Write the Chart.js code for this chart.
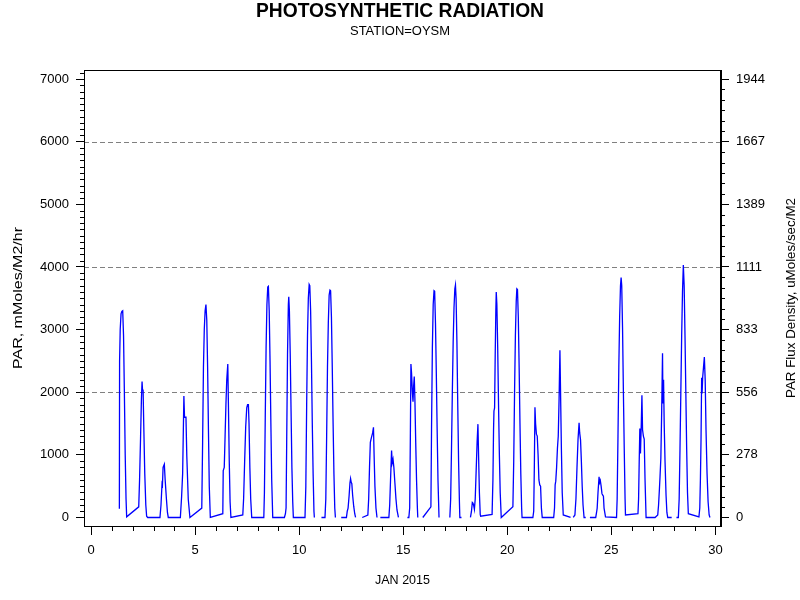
<!DOCTYPE html>
<html><head><meta charset="utf-8">
<script src="https://cdn.jsdelivr.net/npm/chart.js@4.4.0/dist/chart.umd.min.js"></script>
<style>html,body{margin:0;padding:0;background:#fff}#wrap{width:800px;height:600px;position:relative}</style>
</head><body><div id="wrap"><canvas id="c" width="800" height="600"></canvas></div>
<script>
// Time in days of JAN 2015 (null value = gap in record)
const timeDays = [
  1.36,1.37,1.40,1.44,1.48,1.52,1.56,1.60,1.64,1.68,1.71,
  2.29,2.33,2.38,2.42,2.45,2.47,2.50,2.53,2.58,2.63,2.67,2.72,
  3.31,3.36,3.41,3.43,3.46,3.52,3.56,3.62,3.67,3.71,
  4.29,4.35,4.40,4.46,4.49,4.56,4.60,4.67,4.75,
  5.32,5.36,5.40,5.44,5.48,5.52,5.56,5.60,5.64,5.68,5.73,
  6.33,6.35,6.40,6.44,6.48,6.52,6.57,6.60,6.64,6.68,6.72,
  7.29,7.33,7.38,7.43,7.48,7.52,7.56,7.59,7.63,7.67,7.72,
  8.30,8.33,8.37,8.41,8.45,8.49,8.52,8.56,8.60,8.64,8.68,8.73,
  9.29,9.34,9.37,9.40,9.44,9.48,9.50,9.53,9.57,9.61,9.65,9.69,9.72,
  10.28,10.32,10.36,10.40,10.44,10.48,10.51,10.55,10.59,10.63,10.67,10.71,10.73,
  10.90,
  11.07,11.24,11.28,11.32,11.36,11.40,11.44,11.48,11.51,11.55,11.59,11.63,11.67,11.71,11.74,
  11.90,
  12.02,12.27,12.31,12.35,12.40,12.44,12.47,12.50,12.53,12.57,12.62,12.67,12.71,
  12.85,
  13.03,13.30,13.34,13.38,13.42,13.46,13.49,13.53,13.57,13.60,13.64,13.69,13.74,
  13.82,
  13.90,14.31,14.35,14.39,14.44,14.47,14.51,14.55,14.60,14.65,14.70,14.77,
  15.00,
  15.20,15.27,15.31,15.34,15.37,15.40,15.44,15.47,15.50,15.53,15.56,15.60,15.64,15.68,15.70,
  15.82,
  15.94,16.33,16.36,16.40,16.44,16.48,16.51,16.55,16.59,16.63,16.67,16.72,
  17.00,
  17.24,17.28,17.32,17.36,17.40,17.44,17.48,17.51,17.54,17.58,17.62,17.66,17.70,17.72,17.80,
  18.00,
  18.23,18.28,18.32,18.35,18.38,18.42,18.46,18.50,18.55,18.59,18.62,18.66,18.70,18.72,
  19.27,19.31,19.34,19.36,19.39,19.42,19.45,19.47,19.50,19.54,19.58,19.62,19.66,19.71,
  20.27,20.31,20.35,20.39,20.43,20.46,20.49,20.53,20.57,20.61,20.65,20.69,20.71,
  21.23,21.27,21.30,21.33,21.36,21.40,21.44,21.48,21.52,21.56,21.60,21.64,21.68,
  22.23,22.27,22.30,22.33,22.37,22.41,22.45,22.49,22.53,22.56,22.60,22.64,22.69,23.04,
  23.10,
  23.17,23.25,23.30,23.35,23.40,23.45,23.48,23.52,23.56,23.60,23.64,23.69,23.77,
  23.87,
  23.97,24.25,24.29,24.32,24.36,24.41,24.44,24.47,24.51,24.55,24.58,24.62,24.65,24.72,
  25.25,25.28,25.32,25.36,25.40,25.44,25.47,25.50,25.54,25.58,25.62,25.66,25.68,
  26.28,26.31,26.34,26.37,26.40,26.44,26.47,26.50,26.54,26.58,26.62,26.67,
  27.10,27.23,27.27,27.31,27.34,27.38,27.42,27.46,27.48,27.51,27.54,27.58,27.63,27.67,27.71,27.90,
  28.00,
  28.13,28.22,28.26,28.30,28.34,28.38,28.42,28.46,28.50,28.54,28.58,28.62,28.66,28.70,
  29.21,29.25,29.28,29.31,29.34,29.36,29.39,29.43,29.47,29.51,29.55,29.60,29.65,29.70,29.74
];
// PAR, mMoles/M2/hr
const parValues = [
  140,2500,3000,3250,3290,3300,2900,2000,1000,300,10,
  170,600,1300,1900,2170,2050,2030,1500,700,200,20,0,
  0,200,540,520,800,850,600,300,80,0,
  0,330,700,1940,1600,1600,980,290,0,
  150,1200,2400,3000,3300,3400,3150,2400,1400,500,0,
  60,750,800,1300,1800,2200,2450,1800,900,250,0,
  40,300,900,1450,1750,1800,1800,1500,800,300,0,
  0,400,1600,2700,3400,3680,3690,3300,2500,1500,600,0,
  0,60,150,1200,2600,3400,3525,3300,2600,1700,800,250,0,
  0,500,1800,2900,3500,3720,3700,3300,2500,1500,700,100,0,
  null,
  0,0,300,1300,2400,3100,3550,3630,3620,3200,2400,1500,700,150,0,
  null,
  0,0,100,150,350,550,620,560,540,350,180,60,0,
  null,
  0,40,300,800,1200,1260,1300,1350,1440,1000,500,150,0,
  null,
  0,0,200,600,1070,870,930,800,550,300,120,0,
  null,
  0,0,150,1200,2450,2300,2000,1850,2100,2250,1900,1200,600,150,0,
  null,
  0,170,1400,2700,3400,3620,3610,3100,2300,1400,600,0,
  null,
  0,300,1100,2000,2800,3350,3650,3710,3500,2800,1800,900,250,0,0,
  null,
  0,100,240,230,200,130,300,700,1200,1490,1000,400,50,20,
  50,600,1400,1700,1750,2600,3300,3600,3400,2700,1800,1000,400,0,
  170,900,2000,2900,3450,3650,3640,3200,2400,1500,700,150,0,
  0,100,800,1760,1500,1330,1300,1000,600,520,500,150,0,
  0,150,520,580,800,1100,1300,1900,2670,2000,1100,400,40,0,
  null,
  0,40,300,800,1250,1510,1350,1240,900,500,200,0,0,
  null,
  0,0,80,150,400,650,560,590,500,380,360,340,150,10,
  0,300,1300,2400,3200,3700,3830,3700,3000,2000,1100,300,40,
  60,300,900,1420,1020,1500,1950,1400,1300,1250,600,0,
  0,40,200,450,650,950,1700,2620,1820,2200,1500,900,350,80,0,0,
  null,
  0,0,300,1100,2000,2900,3600,4030,3700,2900,2000,1100,400,60,
  10,150,600,1240,2230,1980,2240,2400,2560,2200,1400,700,250,40,0
];
const xTickValues = [0,5,10,15,20,25,30];
const leftTickValues = [0,1000,2000,3000,4000,5000,6000,7000];
const leftTickLabels = ['0','1000','2000','3000','4000','5000','6000','7000'];
const rightTickLabels = ['0','278','556','833','1111','1389','1667','1944'];
const refLineValues = [2000,4000,6000];
const titleText = 'PHOTOSYNTHETIC RADIATION';
const subtitleText = 'STATION=OYSM';
const xTitleText = 'JAN 2015';
const yLeftTitleText = 'PAR, mMoles/M2/hr';
const yRightTitleText = 'PAR Flux Density, uMoles/sec/M2';

const FONT = '"Liberation Sans", Arial, sans-serif';
const points = timeDays.map((t, i) => ({ x: t, y: parValues[i] }));

function drawFitText(ctx, text, x, y, font, targetW, rot) {
  ctx.save();
  ctx.font = font;
  ctx.fillStyle = '#000';
  ctx.textAlign = 'center';
  ctx.textBaseline = 'middle';
  const w = ctx.measureText(text).width;
  const sx = targetW ? targetW / w : 1;
  ctx.translate(x, y);
  if (rot) ctx.rotate(rot);
  ctx.scale(sx, 1);
  ctx.fillText(text, 0, 0);
  ctx.restore();
}

const decor = {
  id: 'decor',
  beforeDatasetsDraw(chart) {
    const { ctx, chartArea: a, scales } = chart;
    ctx.save();
    ctx.strokeStyle = '#808080';
    ctx.lineWidth = 1;
    ctx.setLineDash([5, 3]);
    refLineValues.forEach(v => {
      const y = Math.round(scales.y.getPixelForValue(v)) + 0.5;
      ctx.beginPath(); ctx.moveTo(a.left, y); ctx.lineTo(a.right, y); ctx.stroke();
    });
    ctx.restore();
  },
  afterDraw(chart) {
    const { ctx, chartArea: a, scales } = chart;
    ctx.save();
    ctx.strokeStyle = '#000';
    ctx.lineWidth = 1;
    ctx.strokeRect(Math.round(a.left) + 0.5, Math.round(a.top) + 0.5,
      Math.round(a.right - a.left) - 1, Math.round(a.bottom - a.top));
    ctx.beginPath();
    for (let d = 1; d < 30; d++) {
      if (d % 5 === 0) continue;
      const x = Math.round(scales.x.getPixelForValue(d)) + 0.5;
      ctx.moveTo(x, a.bottom); ctx.lineTo(x, a.bottom + 5);
    }
    for (let v = 100; v <= 7100; v += 100) {
      if (v % 1000 === 0) continue;
      const y = Math.round(scales.y.getPixelForValue(v)) + 0.5;
      ctx.moveTo(a.left - 4, y); ctx.lineTo(a.left, y);
    }
    for (let k = 1; k * 1000 / 6 <= 7140; k++) {
      if (k % 6 === 0) continue;
      const y = Math.round(scales.y.getPixelForValue(k * 1000 / 6)) + 0.5;
      ctx.moveTo(a.right, y); ctx.lineTo(a.right + 4, y);
    }
    ctx.stroke();
    ctx.restore();
    const cx = (a.left + a.right) / 2, cy = (a.top + a.bottom) / 2;
    drawFitText(ctx, titleText, 400, 11, 'bold 20px ' + FONT, 288, 0);
    drawFitText(ctx, subtitleText, 400, 31, '13px ' + FONT, 100, 0);
    drawFitText(ctx, xTitleText, cx, 580, '13px ' + FONT, 55, 0);
    drawFitText(ctx, yLeftTitleText, 18, cy, '13px ' + FONT, 142, -Math.PI / 2);
    drawFitText(ctx, yRightTitleText, 791, cy, '13px ' + FONT, 200, -Math.PI / 2);
  }
};

const tickFont = { family: FONT, size: 13 };
new Chart(document.getElementById('c'), {
  type: 'line',
  data: { datasets: [{ data: points, yAxisID: 'y', borderColor: '#0000ff', borderWidth: 1.3,
    borderDash: [100000, 0.001],
    pointRadius: 0, tension: 0, spanGaps: false, fill: false }] },
  options: {
    responsive: false, animation: false,
    layout: { padding: { top: 70, left: 0, right: 0, bottom: 0 } },
    plugins: { legend: { display: false }, tooltip: { enabled: false }, title: { display: false } },
    scales: {
      x: {
        type: 'linear', min: -0.34, max: 30.27,
        afterBuildTicks: s => { s.ticks = xTickValues.map(v => ({ value: v })); },
        afterFit: s => { s.height = 74; },
        ticks: { font: tickFont, color: '#000', padding: 8, maxRotation: 0, autoSkip: false,
          callback: v => String(v) },
        grid: { drawOnChartArea: false, tickLength: 9, color: '#000', tickColor: '#000' },
        border: { color: '#000' }
      },
      y: {
        position: 'left', min: -136, max: 7144,
        afterBuildTicks: s => { s.ticks = leftTickValues.map(v => ({ value: v })); },
        afterFit: s => { s.width = 84; },
        ticks: { font: tickFont, color: '#000', padding: 7, autoSkip: false,
          callback: (v, i) => leftTickLabels[i] },
        grid: { drawOnChartArea: false, tickLength: 8, color: '#000', tickColor: '#000' },
        border: { color: '#000' }
      },
      y1: {
        position: 'right', min: -136, max: 7144,
        afterBuildTicks: s => { s.ticks = leftTickValues.map(v => ({ value: v })); },
        afterFit: s => { s.width = 79; },
        ticks: { font: tickFont, color: '#000', padding: 7, autoSkip: false,
          callback: (v, i) => rightTickLabels[i] },
        grid: { drawOnChartArea: false, tickLength: 8, color: '#000', tickColor: '#000' },
        border: { color: '#000' }
      }
    }
  },
  plugins: [decor]
});
</script></body></html>
